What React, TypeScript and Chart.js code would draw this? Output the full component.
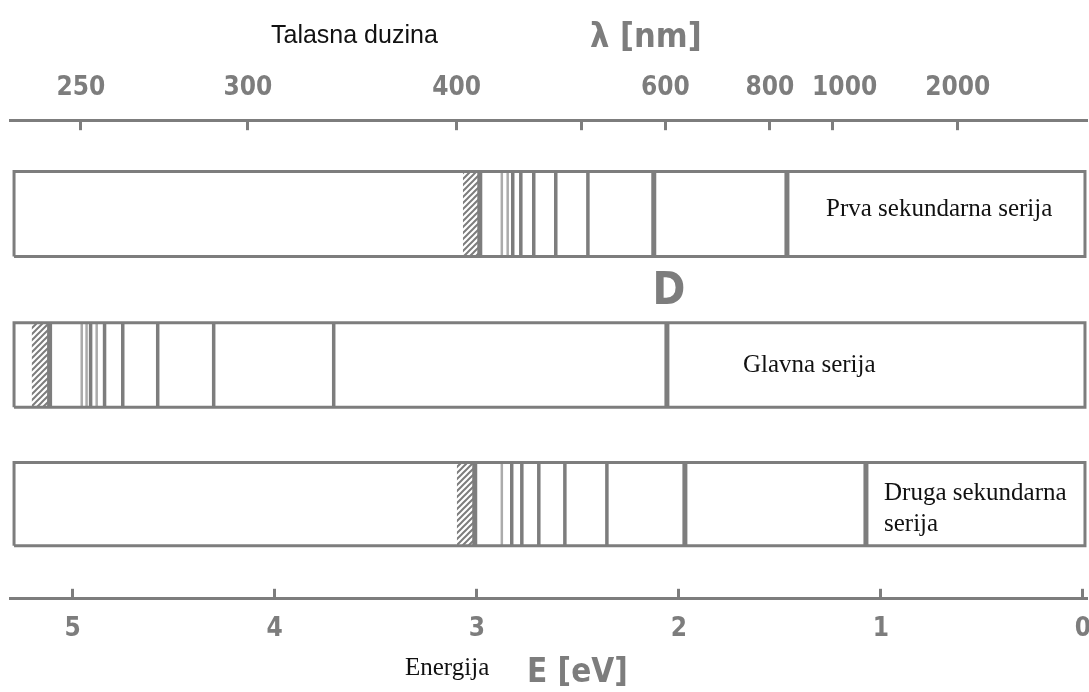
import React, { useEffect, useRef } from "react";
import { Chart, registerables } from "chart.js";

Chart.register(...registerables);

const HC = 1239.84; // eV·nm

// Top axis: wavelength ticks (nm) and their labels
const lambdaTicks = [250, 300, 400, 500, 600, 800, 1000, 2000];
const lambdaLabels = ["250", "300", "400", "", "600", "800", "1000", "2000"];
// Bottom axis: energy ticks (eV)
const energyTicks = [0, 1, 2, 3, 4, 5];

// Series names
const seriesNames = ["Prva sekundarna serija", "Glavna serija", "Druga sekundarna serija"];

// Energy span of each band (eV)
const bandFromE = [5.29, 5.29, 5.29];
const bandToE = [-0.01, -0.01, -0.01];

// Prva sekundarna serija – line energies (eV)
const prvaStrong = [2.985, 2.124, 1.465];
const prvaLines = [2.822, 2.782, 2.718, 2.609, 2.45];
const prvaWeak = [2.876, 2.847];
const prvaContinuum = [3.069, 2.985];

// Glavna serija – line energies (eV)
const glavnaStrong = [5.114, 2.059];
const glavnaLines = [4.911, 4.842, 4.752, 4.579, 4.302, 3.708];
const glavnaWeak = [4.955, 4.931, 4.881];
const glavnaContinuum = [5.203, 5.114];

// Druga sekundarna serija – line energies (eV)
const drugaStrong = [3.01, 1.97, 1.074];
const drugaLines = [2.827, 2.777, 2.693, 2.564, 2.356];
const drugaWeak = [2.876];
const drugaContinuum = [3.099, 3.01];

// D line (eV)
const dLineE = 2.059;

// layout of the three bands on the hidden vertical scale (0..10)
const BAND_Y = [
  { top: 8.93, bottom: 7.15 },
  { top: 5.77, bottom: 4.0 },
  { top: 2.85, bottom: 1.11 },
];

const GREY = "#7d7d7d";
const LIGHT = "#ababab";

function segments(energies: number[], b: { top: number; bottom: number }) {
  const pts: { x: number; y: number | null }[] = [];
  energies.forEach((e) => {
    pts.push({ x: e, y: b.bottom });
    pts.push({ x: e, y: b.top });
    pts.push({ x: e, y: null });
  });
  return pts;
}

const textPlugin = {
  id: "spectrumText",
  afterDraw(chart: any) {
    const { ctx } = chart;
    const xs = chart.scales.x;
    ctx.save();
    ctx.textBaseline = "alphabetic";
    ctx.textAlign = "left";

    ctx.fillStyle = "#111";
    ctx.font = '25px "Liberation Sans"';
    ctx.fillText("Talasna duzina", 271, 43);

    ctx.fillStyle = GREY;
    ctx.font = 'bold 34px "DejaVu Sans Condensed"';
    ctx.fillText("λ [nm]", 590, 47);

    ctx.textAlign = "center";
    ctx.font = 'bold 44px "DejaVu Sans Condensed"';
    ctx.fillText("D", xs.getPixelForValue(dLineE) + 2, 304);

    ctx.textAlign = "left";
    ctx.fillStyle = "#111";
    ctx.font = '25px "Liberation Serif"';
    ctx.fillText(seriesNames[0], 826, 216);
    ctx.fillText(seriesNames[1], 743, 372);
    const parts = seriesNames[2].split(" ");
    ctx.fillText(parts[0] + " " + parts[1], 884, 500);
    ctx.fillText(parts[2], 884, 531);

    ctx.fillText("Energija", 405, 675);

    ctx.fillStyle = GREY;
    ctx.font = 'bold 33px "DejaVu Sans Condensed"';
    ctx.fillText("E [eV]", 527, 682);
    ctx.restore();
  },
};

export default function App() {
  const ref = useRef<HTMLCanvasElement>(null);

  useEffect(() => {
    document.body.style.margin = "0";
    const canvas = ref.current;
    if (!canvas) return;

    const pc = document.createElement("canvas");
    const S = 6;
    pc.width = S;
    pc.height = S;
    const p = pc.getContext("2d")!;
    p.fillStyle = "#ffffff";
    p.fillRect(0, 0, S, S);
    p.strokeStyle = "#7d7d7d";
    p.lineWidth = 2;
    p.beginPath();
    p.moveTo(-1, S + 1);
    p.lineTo(S + 1, -1);
    p.moveTo(-1, 1);
    p.lineTo(1, -1);
    p.moveTo(S - 1, S + 1);
    p.lineTo(S + 1, S - 1);
    p.stroke();
    const pattern = canvas.getContext("2d")!.createPattern(pc, "repeat");

    const groups = [
      { strong: prvaStrong, lines: prvaLines, weak: prvaWeak, cont: prvaContinuum },
      { strong: glavnaStrong, lines: glavnaLines, weak: glavnaWeak, cont: glavnaContinuum },
      { strong: drugaStrong, lines: drugaLines, weak: drugaWeak, cont: drugaContinuum },
    ];

    const datasets: any[] = [];
    groups.forEach((g, i) => {
      const b = BAND_Y[i];
      datasets.push({
        label: seriesNames[i] + " kontinuum",
        data: [
          { x: g.cont[0], y: b.top },
          { x: g.cont[1], y: b.top },
        ],
        fill: { value: b.bottom },
        backgroundColor: pattern,
        borderWidth: 0,
        borderColor: "rgba(0,0,0,0)",
        order: 4,
      });
      datasets.push({
        label: seriesNames[i] + " slabe",
        data: segments(g.weak, b),
        borderColor: LIGHT,
        borderWidth: 2.5,
        fill: false,
        spanGaps: false,
        order: 3,
      });
      datasets.push({
        label: seriesNames[i] + " linije",
        data: segments(g.lines, b),
        borderColor: GREY,
        borderWidth: 3.5,
        fill: false,
        spanGaps: false,
        order: 2,
      });
      datasets.push({
        label: seriesNames[i] + " jake",
        data: segments(g.strong, b),
        borderColor: GREY,
        borderWidth: 5,
        fill: false,
        spanGaps: false,
        order: 2,
      });
      datasets.push({
        label: seriesNames[i],
        data: [
          { x: bandFromE[i], y: b.bottom },
          { x: bandFromE[i], y: b.top },
          { x: bandToE[i], y: b.top },
          { x: bandToE[i], y: b.bottom },
          { x: bandFromE[i], y: b.bottom },
        ],
        borderColor: GREY,
        borderWidth: 3,
        fill: false,
        order: 1,
      });
    });

    const tickFont = { family: "DejaVu Sans Condensed", weight: "bold", size: 26, lineHeight: 1.2 };

    const axisCommon = {
      type: "linear" as const,
      reverse: true,
      min: -0.02,
      max: 5.31,
      border: { display: true, color: GREY, width: 3 },
      grid: {
        display: true,
        drawOnChartArea: false,
        drawTicks: true,
        tickLength: -10,
        tickWidth: 3,
        tickColor: GREY,
      },
    };

    const chart = new Chart(canvas, {
      type: "line",
      data: { datasets },
      options: {
        animation: false,
        responsive: false,
        devicePixelRatio: 1,
        layout: { padding: { left: 10, right: 13, top: 47, bottom: 22 } },
        elements: { point: { radius: 0, hoverRadius: 0 }, line: { tension: 0 } },
        plugins: { legend: { display: false }, tooltip: { enabled: false } },
        scales: {
          x: {
            ...axisCommon,
            position: "bottom",
            afterBuildTicks: (scale: any) => {
              scale.ticks = energyTicks.map((v) => ({ value: v }));
            },
            ticks: {
              autoSkip: false,
              maxRotation: 0,
              minRotation: 0,
              padding: 25,
              color: GREY,
              font: tickFont,
              callback: (v: any) => String(v),
            },
          },
          x2: {
            ...axisCommon,
            position: "top",
            afterBuildTicks: (scale: any) => {
              scale.ticks = lambdaTicks.map((l) => ({ value: HC / l }));
            },
            ticks: {
              autoSkip: false,
              maxRotation: 0,
              minRotation: 0,
              padding: 26,
              color: GREY,
              font: tickFont,
              callback: (_v: any, i: number) => (lambdaLabels[i] === "1000" ? "   1000" : lambdaLabels[i]),
            },
          },
          y: { type: "linear", display: false, min: 0, max: 10 },
        },
      } as any,
      plugins: [textPlugin],
    });

    return () => chart.destroy();
  }, []);

  return (
    <div
      style={{
        position: "fixed",
        left: 0,
        top: 0,
        width: 1089,
        height: 692,
        overflow: "hidden",
        background: "#ffffff",
      }}
    >
      <canvas ref={ref} width={1100} height={692} style={{ display: "block", width: 1100, height: 692 }} />
    </div>
  );
}
